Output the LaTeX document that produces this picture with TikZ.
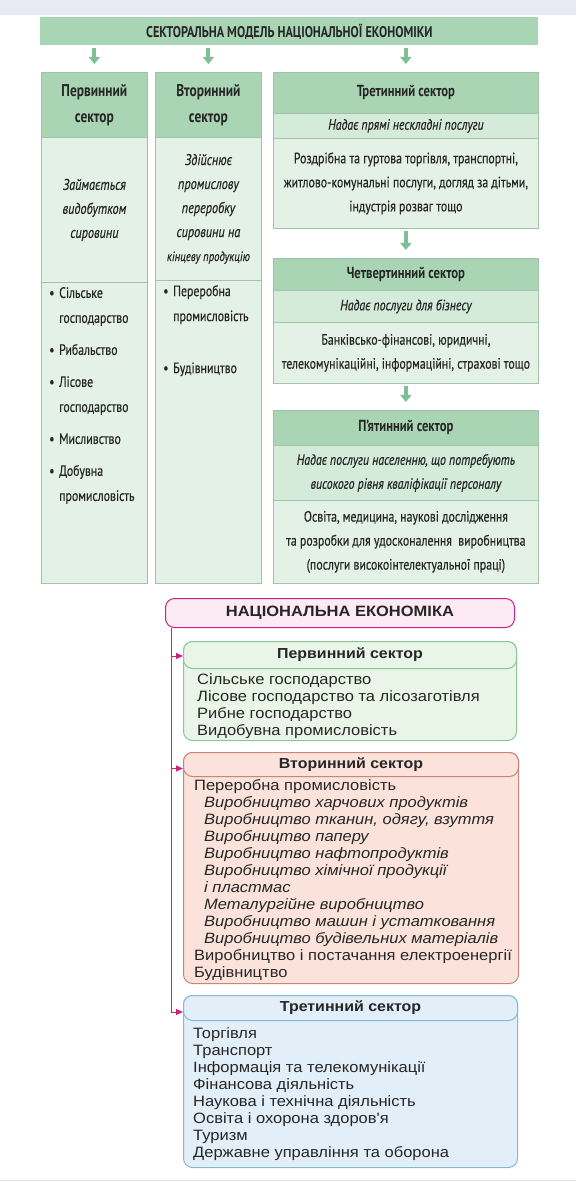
\documentclass[tikz,border=0pt]{standalone}
\usepackage{fontspec}
\setmainfont{Liberation Sans}
\newfontfamily\cond[FakeStretch=0.79, UprightFeatures={FakeBold=0.4}, ItalicFeatures={FakeBold=0.4}]{PT Sans}
\newfontfamily\ari[FakeStretch=1.1]{Liberation Sans}
\usetikzlibrary{arrows.meta}
\definecolor{hdr}{HTML}{A9D5B4}
\definecolor{subc}{HTML}{D5EBDA}
\definecolor{bod}{HTML}{E4F1E7}
\definecolor{gline}{HTML}{9FC2A8}
\definecolor{garrow}{HTML}{7FBF95}
\definecolor{txt}{HTML}{262626}
\definecolor{mag}{HTML}{C8237F}
\definecolor{pinkf}{HTML}{FCEBF3}
\definecolor{gfill}{HTML}{E9F5E7}
\definecolor{gbord}{HTML}{8DC596}
\definecolor{rfill}{HTML}{FBE3DB}
\definecolor{rbord}{HTML}{C98576}
\definecolor{bfill}{HTML}{E2EEF8}
\definecolor{bbord}{HTML}{85B9D6}
\definecolor{topstrip}{HTML}{E7E9F3}
\tikzset{
  cell/.style={draw=gline, line width=0.8pt, anchor=north west, inner sep=1pt, align=center, text=txt},
  hcell/.style={cell, fill=hdr, font=\cond\bfseries\fontsize{16}{24}\selectfont},
  bighcell/.style={cell, fill=hdr, font=\cond\bfseries\fontsize{17}{26}\selectfont},
  scell/.style={cell, fill=subc, font=\cond\itshape\fontsize{15}{24}\selectfont},
  bcell/.style={cell, fill=bod, font=\cond\fontsize{15}{24}\selectfont},
  dcell/.style={cell, fill=bod, font=\cond\itshape\fontsize{15.5}{24}\selectfont},
  listtxt/.style={anchor=north west, inner sep=0pt, align=left, text=txt, font=\cond\fontsize{15}{25}\selectfont},
  garr/.style={draw=garrow, line width=4pt, -{Triangle[length=7pt,width=11pt]}, shorten <=2pt, shorten >=8pt},
  obox/.style={anchor=north west, rounded corners=9pt, line width=1pt, inner sep=0pt},
  ohdr/.style={anchor=north west, rounded corners=9pt, line width=1pt, inner sep=0pt, text=txt, font=\ari\bfseries\fontsize{14.5}{16}\selectfont},
  btxt/.style={anchor=north west, inner sep=0pt, align=left, text=txt, font=\ari\fontsize{15}{17}\selectfont},
  marr/.style={draw=mag, line width=1pt, -{Triangle[length=7pt,width=6pt]}}
}
\begin{document}
\begin{tikzpicture}[x=1pt,y=-1pt]
\useasboundingbox (0,0) rectangle (576,1188);
\fill[topstrip] (0,0) rectangle (576,15);
\draw[gray!25] (0,1180) -- (576,1180);

% ---------- top diagram ----------
\node[cell, fill=hdr, draw=none, minimum width=498, minimum height=28, font=\cond\bfseries\fontsize{15.5}{16}\selectfont] (banner) at (40,17) {СЕКТОРАЛЬНА МОДЕЛЬ НАЦІОНАЛЬНОЇ ЕКОНОМІКИ};

% column 1
\node[bighcell, minimum width=106, minimum height=65] (p1h) at (41,72) {Первинний\\сектор};
\node[dcell, minimum width=106, minimum height=145] (p1d) at (41,137) {Займається\\видобутком\\сировини};
\node[bcell, minimum width=106, minimum height=301] (p1l) at (41,282) {};
\node[listtxt] (p1t) at ([xshift=8pt,yshift=-5pt]p1l.north west) {\makebox[10pt][l]{•}Сільське\\\hspace*{10pt}господарство\\[7pt]\makebox[10pt][l]{•}Рибальство\\[7pt]\makebox[10pt][l]{•}Лісове\\\hspace*{10pt}господарство\\[7pt]\makebox[10pt][l]{•}Мисливство\\[7pt]\makebox[10pt][l]{•}Добувна\\\hspace*{10pt}промисловість};

% column 2
\node[bighcell, minimum width=106, minimum height=65] (p2h) at (155,72) {Вторинний\\сектор};
\node[dcell, minimum width=106, minimum height=143] (p2d) at (155,137) {Здійснює\\промислову\\переробку\\сировини на\\{\fontsize{13.5}{24}\selectfont кінцеву продукцію}};
\node[bcell, minimum width=106, minimum height=303] (p2l) at (155,280) {};
\node[listtxt] (p2t) at ([xshift=8pt,yshift=-5pt]p2l.north west) {\makebox[10pt][l]{•}Переробна\\\hspace*{10pt}промисловість\\[27pt]\makebox[10pt][l]{•}Будівництво};

% column 3
\node[hcell, minimum width=265, minimum height=41] (p3h) at (273,72) {Третинний сектор};
\node[scell, minimum width=265, minimum height=25] (p3s) at (273,113) {Надає прямі нескладні послуги};
\node[bcell, minimum width=265, minimum height=90] (p3b) at (273,138) {Роздрібна та гуртова торгівля, транспортні,\\житлово-комунальні послуги, догляд за дітьми,\\індустрія розваг тощо};

\node[hcell, minimum width=265, minimum height=32] (p4h) at (273,258) {Четвертинний сектор};
\node[scell, minimum width=265, minimum height=32] (p4s) at (273,290) {Надає послуги для бізнесу};
\node[bcell, minimum width=265, minimum height=61] (p4b) at (273,322) {Банківсько-фінансові, юридичні,\\телекомунікаційні, інформаційні, страхові тощо};

\node[hcell, minimum width=265, minimum height=35] (p5h) at (273,410) {П’ятинний сектор};
\node[scell, minimum width=265, minimum height=55] (p5s) at (273,445) {Надає послуги населенню, що потребують\\високого рівня кваліфікації персоналу};
\node[bcell, minimum width=265, minimum height=83] (p5b) at (273,500) {Освіта, медицина, наукові дослідження\\та розробки для удосконалення\ \ виробництва\\(послуги високоінтелектуальної праці)};

% arrows
\draw[garr] (banner.south -| p1h.north) -- (p1h.north);
\draw[garr] (banner.south -| p2h.north) -- (p2h.north);
\draw[garr] (banner.south -| p3h.north) -- (p3h.north);
\draw[garr] (p3b.south) -- (p4h.north);
\draw[garr] (p4b.south) -- (p5h.north);

% ---------- bottom diagram ----------
\node[obox, draw=mag, fill=pinkf, minimum width=349, minimum height=29, text=txt, font=\ari\bfseries\fontsize{15}{16}\selectfont] (nat) at (165,598) {НАЦІОНАЛЬНА ЕКОНОМІКА};

\node[obox, draw=gbord, fill=gfill, minimum width=333, minimum height=99] (s1) at (183,641) {};
\node[ohdr, draw=gbord, fill=gfill, minimum width=333, minimum height=27] (s1h) at (183,641) {Первинний сектор};
\node[btxt] (s1t) at (197,673) {Сільське господарство\\Лісове господарство та лісозаготівля\\Рибне господарство\\Видобувна промисловість};

\node[obox, draw=rbord, fill=rfill, minimum width=335, minimum height=231] (s2) at (183,752) {};
\node[ohdr, draw=rbord, fill=rfill, minimum width=335, minimum height=24] (s2h) at (183,752) {Вторинний сектор};
\node[btxt] (s2t) at (194,779) {Переробна промисловість\\
\hspace*{10pt}\textit{Виробництво харчових продуктів}\\
\hspace*{10pt}\textit{Виробництво тканин, одягу, взуття}\\
\hspace*{10pt}\textit{Виробництво паперу}\\
\hspace*{10pt}\textit{Виробництво нафтопродуктів}\\
\hspace*{10pt}\textit{Виробництво хімічної продукції}\\
\hspace*{10pt}\textit{і пластмас}\\
\hspace*{10pt}\textit{Металургійне виробництво}\\
\hspace*{10pt}\textit{Виробництво машин і устатковання}\\
\hspace*{10pt}\textit{Виробництво будівельних матеріалів}\\
Виробництво і постачання електроенергії\\
Будівництво};

\node[obox, draw=bbord, fill=bfill, minimum width=334, minimum height=172] (s3) at (183,995) {};
\node[ohdr, draw=bbord, fill=bfill, minimum width=334, minimum height=25] (s3h) at (183,995) {Третинний сектор};
\node[btxt] (s3t) at (193,1027) {Торгівля\\Транспорт\\Інформація та телекомунікації\\Фінансова діяльність\\Наукова і технічна діяльність\\Освіта і охорона здоров'я\\Туризм\\Державне управління та оборона};

% connectors
\coordinate (trunk) at (171,0);
\coordinate (a1) at ([yshift=-1pt]s1h.west);
\coordinate (a2) at ([yshift=-4pt]s2h.west);
\coordinate (a3) at ([yshift=-4pt]s3h.west);
\draw[mag, line width=1pt] (nat.south -| trunk) -- (a3 -| trunk);
\draw[marr] (a1 -| trunk) -- (a1);
\draw[marr] (a2 -| trunk) -- (a2);
\draw[marr] (a3 -| trunk) -- (a3);
\end{tikzpicture}
\end{document}
